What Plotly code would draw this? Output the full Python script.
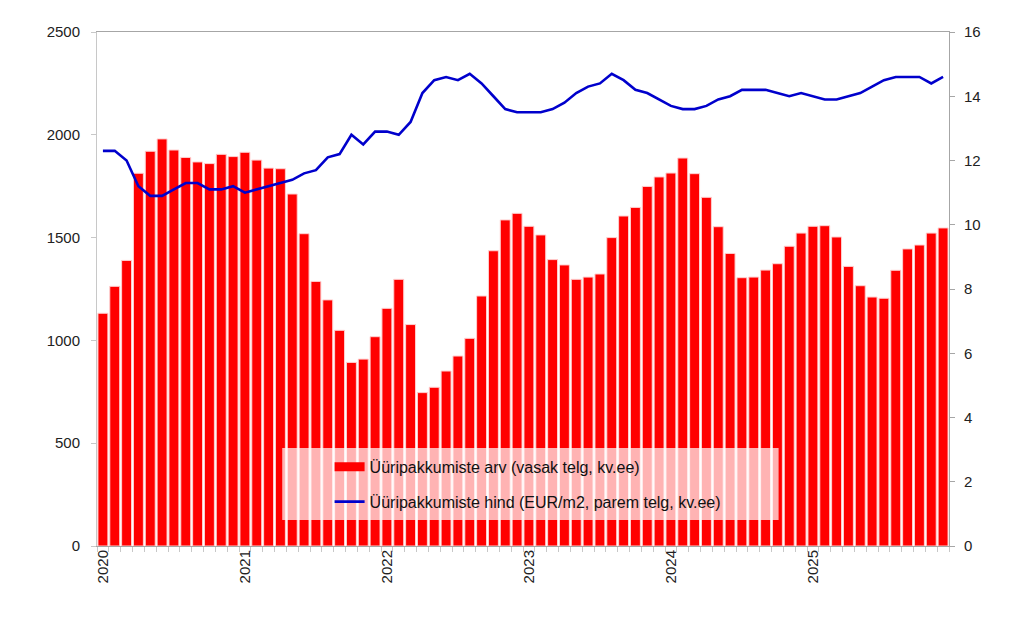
import plotly.graph_objects as go

years = ["2020", "2021", "2022", "2023", "2024", "2025"]
months_per_year = 12

offers = [
    1132, 1263, 1389, 1813, 1920, 1980, 1926, 1890, 1868, 1860, 1905, 1894,
    1915, 1877, 1838, 1835, 1712, 1519, 1287, 1197, 1049, 893, 909, 1018,
    1156, 1297, 1077, 746, 772, 851, 924, 1010, 1216, 1436, 1586, 1618,
    1555, 1513, 1393, 1367, 1297, 1308, 1323, 1500, 1605, 1647, 1749, 1795,
    1814, 1887, 1811, 1696, 1553, 1423, 1305, 1308, 1342, 1373, 1458, 1522,
    1555, 1558, 1503, 1360, 1266, 1211, 1205, 1341, 1445, 1464, 1522, 1547,
]

price = [
    12.3, 12.3, 12.0, 11.2, 10.9, 10.9, 11.1, 11.3, 11.3, 11.1, 11.1, 11.2,
    11.0, 11.1, 11.2, 11.3, 11.4, 11.6, 11.7, 12.1, 12.2, 12.8, 12.5, 12.9,
    12.9, 12.8, 13.2, 14.1, 14.5, 14.6, 14.5, 14.7, 14.4, 14.0, 13.6, 13.5,
    13.5, 13.5, 13.6, 13.8, 14.1, 14.3, 14.4, 14.7, 14.5, 14.2, 14.1, 13.9,
    13.7, 13.6, 13.6, 13.7, 13.9, 14.0, 14.2, 14.2, 14.2, 14.1, 14.0, 14.1,
    14.0, 13.9, 13.9, 14.0, 14.1, 14.3, 14.5, 14.6, 14.6, 14.6, 14.4, 14.6,
]

name_bar = "Üüripakkumiste arv (vasak telg, kv.ee)"
name_line = "Üüripakkumiste hind (EUR/m2, parem telg, kv.ee)"

idx = list(range(len(offers)))
year_pos = [i * months_per_year for i in range(len(years))]

FONT = "Liberation Sans, Arial, sans-serif"
AXC = "#a6a6a6"

fig = go.Figure()
fig.add_trace(go.Bar(
    x=idx, y=offers, name=name_bar, showlegend=False,
    marker=dict(color="#ff0000", line=dict(color="#ffd0d0", width=1)),
    width=0.84,
))
fig.add_trace(go.Scatter(
    x=idx, y=price, name=name_line, yaxis="y2", mode="lines",
    line=dict(color="#0000cc", width=2.6), showlegend=False,
))
# legend entries
fig.add_trace(go.Scatter(
    x=[None], y=[None], name=name_bar, mode="lines",
    line=dict(color="#ff0000", width=9), legendgroup="a",
))
fig.add_trace(go.Scatter(
    x=[None], y=[None], name=name_line, mode="lines", yaxis="y2",
    line=dict(color="#0000cc", width=2.6), legendgroup="b",
))

fig.add_shape(
    type="rect", xref="paper", yref="paper",
    x0=0.2174, x1=0.800, y0=0.0506, y1=0.1907,
    fillcolor="rgba(255,255,255,0.7)", line=dict(width=0), layer="above",
)

fig.update_layout(
    width=1016, height=616,
    margin=dict(l=89, r=75, t=24, b=78),
    paper_bgcolor="white", plot_bgcolor="white",
    font=dict(family=FONT, size=15, color="#222222"),
    bargap=0.1,
    xaxis=dict(
        range=[-0.5, len(offers) - 0.5],
        tickmode="array", tickvals=year_pos, ticktext=years,
        tickangle=-90, ticks="", showgrid=False, zeroline=False,
        showline=True, linecolor=AXC, linewidth=1, mirror=True,
        ticklabelstandoff=-3,
        minor=dict(ticks="outside", tick0=-0.5, dtick=1, ticklen=5,
                   tickcolor="#c8c8c8", showgrid=False),
    ),
    yaxis=dict(
        range=[0, 2500], tickvals=[0, 500, 1000, 1500, 2000, 2500],
        ticks="outside", ticklen=5, tickcolor="#c8c8c8",
        showgrid=False, zeroline=False,
        showline=True, linecolor="#c8c8c8", linewidth=1,
        ticklabelstandoff=8,
    ),
    yaxis2=dict(
        range=[0, 16], tickvals=list(range(0, 17, 2)),
        overlaying="y", side="right",
        ticks="outside", ticklen=5, tickcolor=AXC,
        showgrid=False, zeroline=False,
        showline=True, linecolor=AXC, linewidth=1,
        ticklabelstandoff=6,
    ),
    legend=dict(
        x=0.273, y=0.187, xanchor="left", yanchor="top",
        bgcolor="rgba(0,0,0,0)", borderwidth=0,
        font=dict(family=FONT, size=16, color="#111111"),
        tracegroupgap=11,
    ),
)

fig.write_html("out.html")
